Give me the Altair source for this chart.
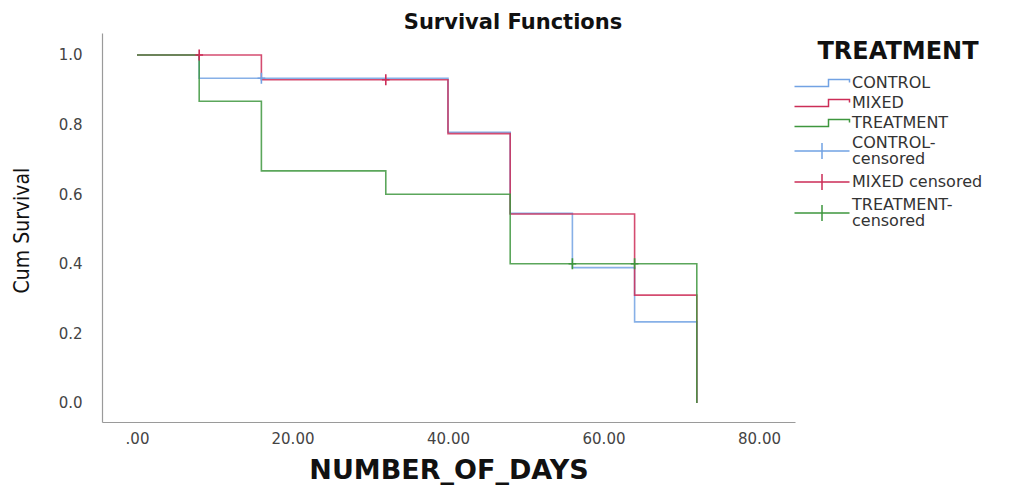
import altair as alt
import pandas as pd

# ---------------- data ----------------
groups = ["CONTROL", "MIXED", "TREATMENT"]

control_days = [0, 8, 40, 48, 56, 64, 72]
control_surv = [1.0, 0.933, 0.778, 0.545, 0.389, 0.233, 0.0]

mixed_days = [0, 16, 40, 48, 64, 72]
mixed_surv = [1.0, 0.929, 0.774, 0.543, 0.31, 0.0]

treat_days = [0, 8, 16, 32, 48, 72]
treat_surv = [1.0, 0.867, 0.667, 0.6, 0.4, 0.0]

cens_group = ["CONTROL", "MIXED", "MIXED", "TREATMENT", "TREATMENT"]
cens_days = [16, 8, 32, 56, 64]
cens_surv = [0.933, 1.0, 0.929, 0.4, 0.4]

legend_keys = ["CONTROL", "MIXED", "TREATMENT",
               "CONTROL-censored", "MIXED censored", "TREATMENT-censored"]
key_colors = ["#72a2e3", "#cc2d57", "#3e963e", "#72a2e3", "#cc2d57", "#3e963e"]

x_ticks = [0, 20, 40, 60, 80]
y_ticks = [0.0, 0.2, 0.4, 0.6, 0.8, 1.0]

# ---------------- tables ----------------
rows = []
for g, days, surv in [("CONTROL", control_days, control_surv),
                      ("MIXED", mixed_days, mixed_surv),
                      ("TREATMENT", treat_days, treat_surv)]:
    for i, (d, s) in enumerate(zip(days, surv)):
        rows.append({"key": g, "days": d, "surv": s, "ord": i})
lines_df = pd.DataFrame(rows)

cens_df = pd.DataFrame({
    "key": [g + ("-censored" if g != "MIXED" else " censored") for g in cens_group],
    "days": cens_days,
    "surv": cens_surv,
})

STEP = "M-5.5,0.7H1.3V-0.7H5.5V-0.1"
CROSS = "M-5.5,0H5.5M0,-1.6V1.6"
CROSS_LOW = "M-5.5,1.6H5.5M0,0V3.2"   # for entries whose label wraps onto two lines
shape_paths = [STEP, STEP, STEP, CROSS_LOW, CROSS, CROSS_LOW]
PLUS = "M-0.7,0H0.7M0,-1V1"

color_scale = alt.Scale(domain=legend_keys, range=key_colors)
shape_scale = alt.Scale(domain=legend_keys, range=shape_paths)

x_enc = alt.X("days:Q",
              scale=alt.Scale(domain=[-4.5, 84.63], nice=False, zero=False),
              axis=alt.Axis(values=x_ticks,
                            labelExpr="datum.value == 0 ? '.00' : format(datum.value, '.2f')",
                            ticks=False, tickSize=0, grid=False,
                            domainColor="#9a9a9a", domainWidth=1.2,
                            labelFont="DejaVu Sans", labelFontSize=15, labelColor="#444444",
                            labelPadding=9,
                            title="NUMBER_OF_DAYS", titleFont="DejaVu Sans",
                            titleFontSize=27, titleFontWeight="bold", titleColor="#111111",
                            titleX=346.5, titleY=48, titleBaseline="middle",
                            titleAlign="center", titleAnchor="middle"))
y_enc = alt.Y("surv:Q",
              scale=alt.Scale(domain=[-0.0546, 1.0632], nice=False, zero=False),
              axis=alt.Axis(values=y_ticks, format=".1f",
                            ticks=False, tickSize=0, grid=False,
                            domainColor="#9a9a9a", domainWidth=1.2,
                            labelFont="DejaVu Sans", labelFontSize=15, labelColor="#444444",
                            labelPadding=20,
                            title="Cum Survival",
                            titleFont="Liberation Sans Narrow, DejaVu Sans Condensed, sans-serif",
                            titleFontSize=21, titleFontWeight="normal", titleColor="#111111",
                            titleAngle=270, titleX=-80, titleY=197,
                            titleBaseline="middle", titleAlign="center"))

lines = alt.Chart(lines_df).mark_line(
    interpolate="step-after", strokeWidth=1.6, opacity=0.85
).encode(
    x=x_enc, y=y_enc,
    color=alt.Color("key:N", scale=color_scale, legend=None),
    order="ord:Q",
)

cens = alt.Chart(cens_df).mark_point(
    filled=False, strokeWidth=1.6, size=121, opacity=1
).encode(
    x=x_enc, y=y_enc,
    color=alt.Color("key:N", scale=color_scale, legend=None),
    shape=alt.value(PLUS),
)

legend = alt.Legend(
    title="TREATMENT", orient="none", legendX=712, legendY=7,
    titleFont="DejaVu Sans", titleFontSize=24, titleFontWeight="bold",
    titleColor="#111111", titleAnchor="middle", titlePadding=11,
    labelFont="DejaVu Sans", labelFontSize=16, labelColor="#333333",
    labelExpr="datum.label == 'CONTROL-censored' ? ['CONTROL-', 'censored'] : "
              "datum.label == 'TREATMENT-censored' ? ['TREATMENT-', 'censored'] : datum.label",
    labelOffset=22, labelLimit=300,
    symbolSize=100, symbolStrokeWidth=1.5, rowPadding=4, padding=0,
)

dummy = alt.Chart(cens_df).mark_point(filled=False, opacity=1).encode(
    color=alt.Color("key:N", scale=color_scale, legend=legend),
    shape=alt.Shape("key:N", scale=shape_scale, legend=legend),
).transform_filter("false")

chart = alt.layer(lines, cens, dummy).resolve_legend(
    color="independent", shape="independent"
).properties(
    width=693, height=389,
    autosize=alt.AutoSizeParams(type="none"),
    padding={"left": 94, "top": 25, "right": 223, "bottom": 65},
    title=alt.TitleParams("Survival Functions", anchor="middle", frame="group",
                          dx=64.5, offset=0,
                          font="DejaVu Sans", fontSize=21,
                          fontWeight="bold", color="#111111"),
).configure(
    view={"strokeWidth": 0},
    style={"guide-label": {"lineHeight": 16}},
)

chart.save("out.html", embed_options={"renderer": "svg", "actions": False})
